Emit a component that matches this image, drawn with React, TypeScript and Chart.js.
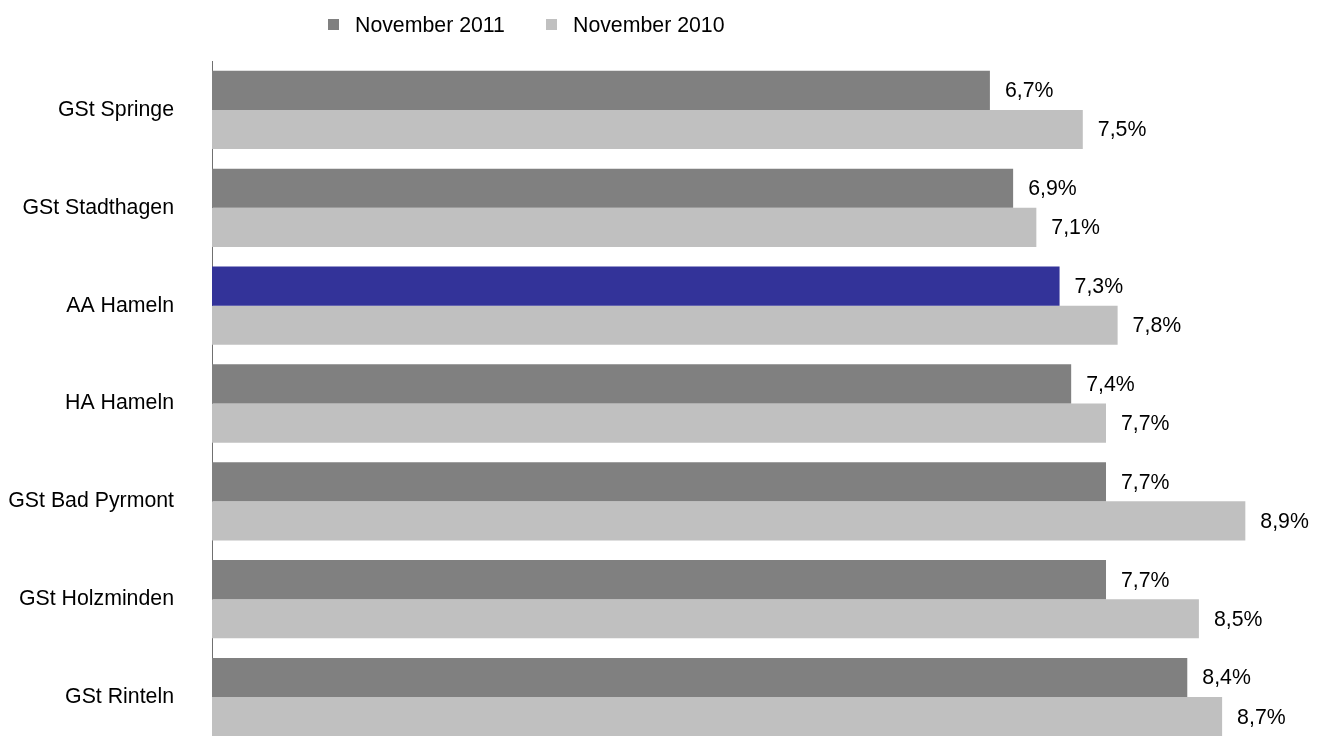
import React, { useEffect, useRef } from "react";
import { Chart, registerables } from "chart.js";

Chart.register(...registerables);

const categories = [
  "GSt Springe",
  "GSt Stadthagen",
  "AA Hameln",
  "HA Hameln",
  "GSt Bad Pyrmont",
  "GSt Holzminden",
  "GSt Rinteln",
];
const seriesLabels = ["November 2011", "November 2010"];
const values2011 = [6.7, 6.9, 7.3, 7.4, 7.7, 7.7, 8.4];
const values2010 = [7.5, 7.1, 7.8, 7.7, 8.9, 8.5, 8.7];
const highlightCategory = "AA Hameln";

const DARK = "#808080";
const LIGHT = "#C0C0C0";
const HIGHLIGHT = "#333399";
const FONT = "'Liberation Sans', Arial, sans-serif";
const FSIZE = 21.3;

const fmt = (v: number) => v.toFixed(1).replace(".", ",") + "%";

const labelsPlugin = {
  id: "valueLabels",
  afterDatasetsDraw(chart: any) {
    const ctx = chart.ctx;
    ctx.save();
    ctx.font = `${FSIZE}px ${FONT}`;
    ctx.fillStyle = "#000";
    ctx.textAlign = "left";
    ctx.textBaseline = "middle";
    chart.data.datasets.forEach((ds: any, di: number) => {
      const meta = chart.getDatasetMeta(di);
      meta.data.forEach((bar: any, i: number) => {
        ctx.fillText(fmt(ds.data[i]), bar.x + 15, bar.y + 1);
      });
    });
    ctx.restore();
  },
};

const legendPlugin = {
  id: "customLegend",
  afterDraw(chart: any) {
    const ctx = chart.ctx;
    ctx.save();
    ctx.font = `${FSIZE}px ${FONT}`;
    ctx.textBaseline = "middle";
    ctx.textAlign = "left";
    const xs = [328, 546];
    chart.data.datasets.forEach((ds: any, di: number) => {
      const x = xs[di];
      ctx.fillStyle = ds.legendColor;
      ctx.fillRect(x, 19, 11, 11);
      ctx.fillStyle = "#000";
      ctx.fillText(ds.label, x + 27, 26);
    });
    ctx.restore();
  },
};

export default function App() {
  const ref = useRef<HTMLCanvasElement>(null);
  useEffect(() => {
    if (!ref.current) return;
    const chart = new Chart(ref.current, {
      type: "bar",
      data: {
        labels: categories,
        datasets: [
          {
            label: seriesLabels[0],
            data: values2011,
            backgroundColor: categories.map((c) => (c === highlightCategory ? HIGHLIGHT : DARK)),
            legendColor: DARK,
            categoryPercentage: 0.8,
            barPercentage: 1,
            borderWidth: 0,
          } as any,
          {
            label: seriesLabels[1],
            data: values2010,
            backgroundColor: LIGHT,
            legendColor: LIGHT,
            categoryPercentage: 0.8,
            barPercentage: 1,
            borderWidth: 0,
          } as any,
        ],
      },
      options: {
        indexAxis: "y",
        animation: false,
        responsive: false,
        maintainAspectRatio: false,
        layout: { padding: { top: 61, right: 7, bottom: 0, left: 0 } },
        plugins: {
          legend: { display: false },
          tooltip: { enabled: false },
        },
        scales: {
          x: {
            display: false,
            min: 0,
            max: 9.5,
          },
          y: {
            afterFit(scale: any) {
              scale.width = 212;
              scale.paddingTop = 0;
              scale.paddingBottom = 0;
            },
            grid: { display: false, drawTicks: false },
            border: { display: true, color: "#707070", width: 1 },
            ticks: {
              padding: 38,
              color: "#000",
              font: { family: FONT, size: FSIZE },
            },
          },
        },
      },
      plugins: [labelsPlugin, legendPlugin],
    });
    return () => chart.destroy();
  }, []);
  return (
    <div style={{ position: "fixed", left: 0, top: 0, width: 1322, height: 736, overflow: "hidden", background: "#fff" }}>
      <canvas ref={ref} width={1322} height={746} style={{ display: "block" }} />
    </div>
  );
}
